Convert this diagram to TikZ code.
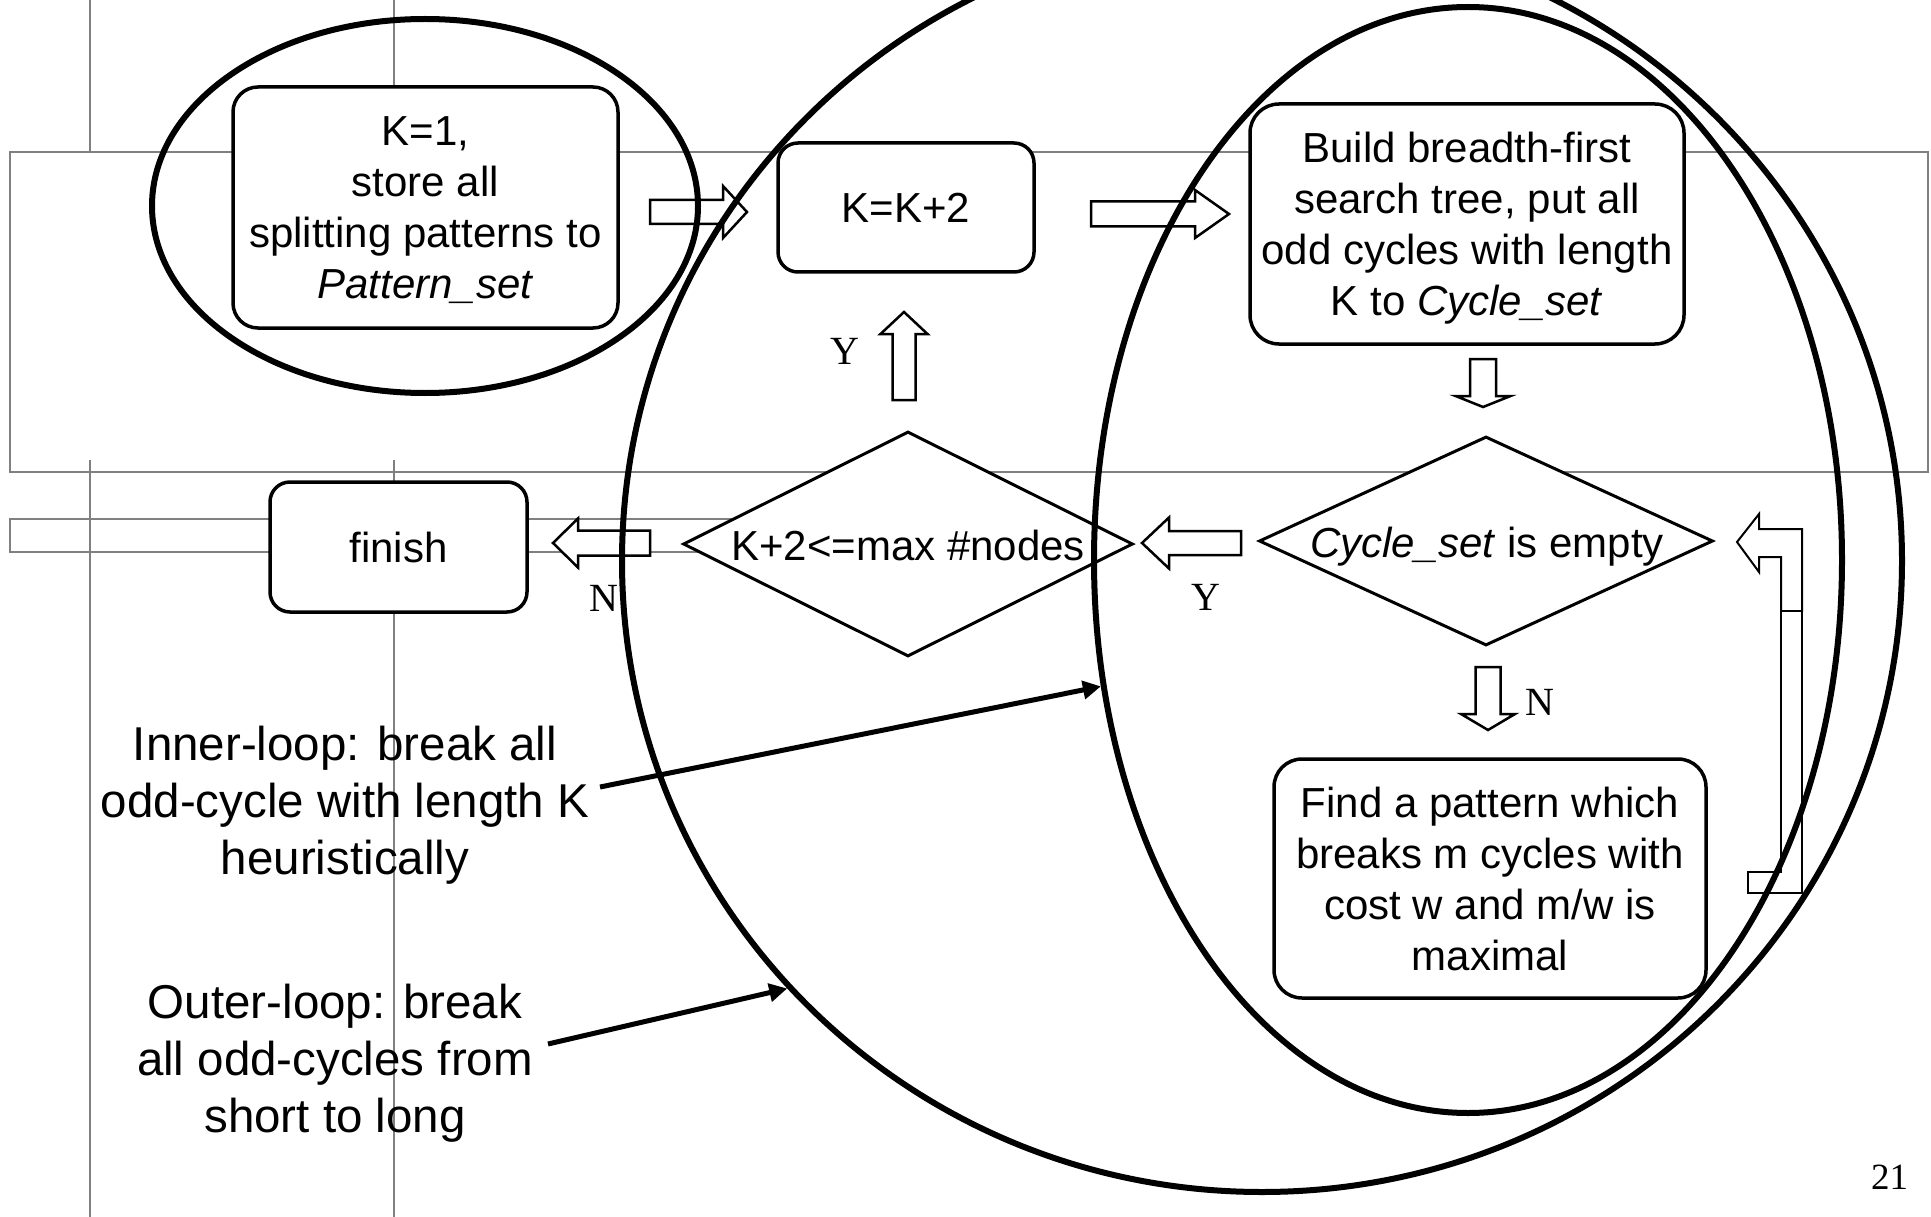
\documentclass[tikz,border=0pt]{standalone}
\usepackage{fontspec}
\setmainfont{Liberation Sans}
\newfontfamily\labelserif{Liberation Serif}
\usetikzlibrary{shapes.geometric,arrows.meta}

\newcommand{\flowtxt}{\fontsize{42pt}{51pt}\selectfont}
\newcommand{\notetxt}{\fontsize{47.5pt}{57pt}\selectfont}
\newcommand{\marktxt}{\labelserif\fontsize{40pt}{48pt}\selectfont}
\newcommand{\pagetxt}{\labelserif\fontsize{37pt}{44pt}\selectfont}

% hollow block arrow: tail coordinate, direction, length, head length, shaft half-width, head half-width
\newcommand{\hollowarrow}[6]{%
  \draw[blockline, shift={(#1)}, rotate=#2]
    (0,-#5) -- ({#3-#4},-#5) -- ({#3-#4},-#6) -- (#3,0) -- ({#3-#4},#6) -- ({#3-#4},#5) -- (0,#5) -- cycle;}

\begin{document}
\begin{tikzpicture}[x=1pt,y=-1pt,
  grid/.style={draw=black!50, line width=1.8pt},
  stepbox/.style={draw, line width=3.5pt, rounded corners=25pt, fill=white, align=center,
                  inner sep=0pt, text depth=0pt, font=\flowtxt},
  decision/.style={draw, diamond, line width=3pt, fill=white, inner sep=0pt},
  flowlabel/.style={inner sep=0pt, font=\flowtxt},
  blockline/.style={draw, line width=2.5pt, fill=white, line join=miter},
  loopring/.style={draw, ellipse, line width=6pt, inner sep=0pt},
  pointer/.style={line width=5pt, -{Triangle[length=18pt,width=18pt]}},
  yn/.style={font=\marktxt, inner sep=0pt},
  note/.style={font=\notetxt, align=center, inner sep=0pt}
]
\useasboundingbox (0,0) rectangle (1931,1217);
\fill[white] (0,0) rectangle (1931,1217);

% layout rules in the background
\draw[grid] (10,152) rectangle (1928,472);
\draw[grid] (90,0) -- (90,152);
\draw[grid] (394,0) -- (394,152);
\draw[grid] (90,460) -- (90,1217);
\draw[grid] (394,460) -- (394,1217);
\draw[grid] (908,519) -- (10,519) -- (10,552) -- (908,552);

% process steps
\node[stepbox, minimum width=385pt, minimum height=241pt] (init) at (425.5,207.5)
  {K=1,\\store all\\splitting patterns to\\\textit{Pattern\_set}};
\node[stepbox, minimum width=256pt, minimum height=129pt, rounded corners=20pt] (incr) at (906,207.5) {K=K+2};
\node[stepbox, minimum width=434pt, minimum height=240pt, rounded corners=29pt] (bfs) at (1467,224)
  {Build breadth-first\\search tree, put all\\odd cycles with length\\K to \textit{Cycle\_set}};
\node[stepbox, minimum width=257pt, minimum height=130pt, rounded corners=20pt] (finish) at (398.5,547) {finish};
\node[stepbox, minimum width=432pt, minimum height=239pt, rounded corners=28pt] (pick) at (1490,878.5)
  {Find a pattern which\\breaks m cycles with\\cost w and m/w is\\maximal};

% decisions
\node[decision, minimum width=450pt, minimum height=225pt] (cont) at (908,544) {};
\node[flowlabel, anchor=base] (contText) at (908,560) {K+2<=max \#nodes};
\node[decision, minimum width=454pt, minimum height=209pt] (empty) at (1486,541) {};
\node[flowlabel, anchor=base] (emptyText) at (1487,557) {\textit{Cycle\_set} is empty};

% hollow flow arrows
\coordinate (a1) at (650,212);
\coordinate (a2) at (1091,214);
\coordinate (a3) at (1483,359);
\coordinate (a4) at (1241,543);
\coordinate (a5) at (650,543);
\coordinate (a6) at (904,400);
\coordinate (a7) at (1488,667);
\hollowarrow{a1}{0}{97}{24}{12}{26}
\hollowarrow{a2}{0}{138}{34}{12.5}{24}
\hollowarrow{a3}{270}{48}{11}{13}{27.5}
\hollowarrow{a4}{180}{99}{27}{12}{25.5}
\hollowarrow{a5}{180}{97}{25}{12.5}{24.5}
\hollowarrow{a6}{90}{88}{22}{11.5}{23.5}
\hollowarrow{a7}{270}{63}{16}{12.5}{27}

% return path from the pattern step back to the test
\draw[blockline, line width=2pt] (1737,542) -- (1759,514) -- (1759,529) -- (1802,529) -- (1802,611)
  -- (1781,611) -- (1781,557) -- (1759,557) -- (1759,572) -- cycle;
\draw[blockline, line width=2pt] (1781,611) -- (1802,611) -- (1802,893) -- (1748,893) -- (1748,872)
  -- (1781,872) -- cycle;

% branch labels
\node[yn] (yUp) at (845,351.5) {Y};
\node[yn] (nLeft) at (603.5,598) {N};
\node[yn] (yLeft) at (1205.5,597.5) {Y};
\node[yn] (nDown) at (1540,702) {N};

% annotations
\node[note] (innerNote) at (345,805) {Inner-loop: break all\\odd-cycle with length K\\heuristically};
\node[note] (outerNote) at (335,1063) {Outer-loop: break\\all odd-cycles from\\short to long};
\node[font=\pagetxt, inner sep=0pt] (pageNo) at (1889.5,1177.5) {21};

% loop outlines
\node[loopring, minimum width=546pt, minimum height=374pt] (startRing) at (425,206) {};
\node[loopring, minimum width=748pt, minimum height=1106pt] (innerRing) at (1468,560) {};
\node[loopring, minimum width=1280pt, minimum height=1262pt] (outerRing) at (1262,561) {};

\coordinate (innerFrom) at (600,787);
\coordinate (outerFrom) at (548,1044);
\draw[pointer] (innerFrom) -- (innerRing.199.4);
\draw[pointer] (outerFrom) -- (outerRing.222.5);
\end{tikzpicture}
\end{document}
